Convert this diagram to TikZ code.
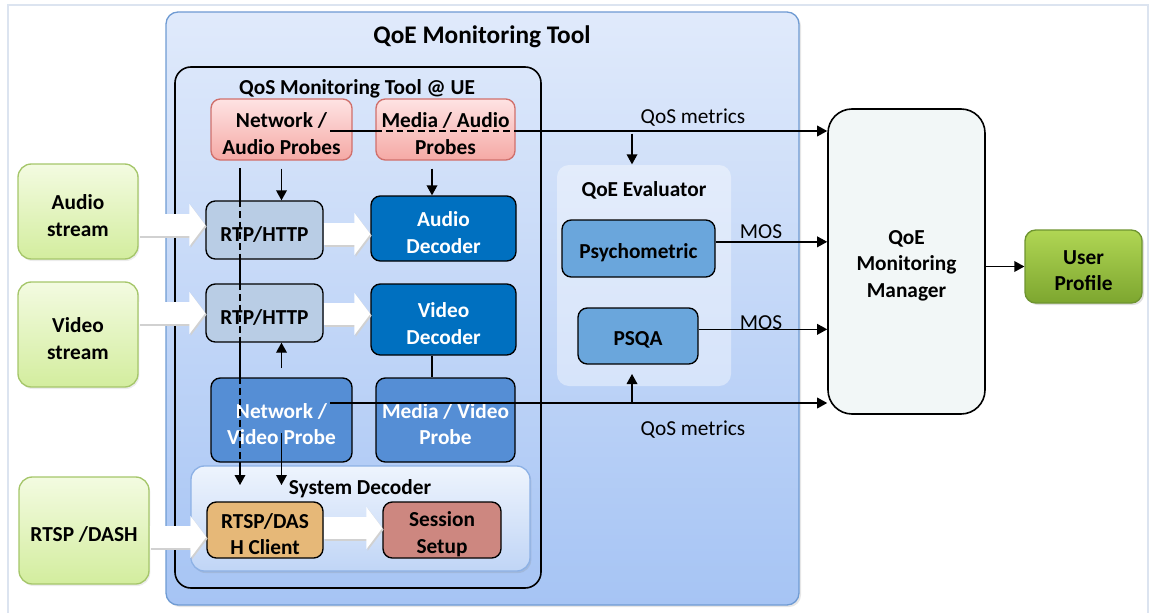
\documentclass[tikz,border=0pt]{standalone}
\usepackage{fontspec}
\setmainfont{Carlito}
\usetikzlibrary{positioning}
\usetikzlibrary{arrows.meta,shadows}
\definecolor{framegray}{HTML}{DCE4F0}
\definecolor{tooltop}{HTML}{E0EAFB}
\definecolor{toolbot}{HTML}{A6C4F4}
\definecolor{toolline}{HTML}{6F9BD3}
\definecolor{probetop}{HTML}{FEE3E3}
\definecolor{probebot}{HTML}{F5A9A5}
\definecolor{probeline}{HTML}{D0706C}
\definecolor{streamtop}{HTML}{F3FBE1}
\definecolor{streambot}{HTML}{D3ED9E}
\definecolor{streamline}{HTML}{A5C66A}
\definecolor{rtpfill}{HTML}{B9CDE5}
\definecolor{decfill}{HTML}{0070C0}
\definecolor{vprobefill}{HTML}{558ED5}
\definecolor{evalfill}{HTML}{6AA6DC}
\definecolor{clientfill}{HTML}{E6B878}
\definecolor{sessfill}{HTML}{CD8780}
\definecolor{sysdtop}{HTML}{EEF4FD}
\definecolor{sysdbot}{HTML}{C0D5F6}
\definecolor{sysdline}{HTML}{8DB1E5}
\definecolor{mgrfill}{HTML}{F2F7F7}
\definecolor{usertop}{HTML}{B0D654}
\definecolor{userbot}{HTML}{7DA62F}
\definecolor{userline}{HTML}{6E9430}
\newcommand\basefont{\fontsize{16}{20}\selectfont}
\newcommand\titlefont{\fontsize{19}{22}\selectfont\bfseries}
\pgfdeclarelayer{back}\pgfdeclarelayer{mid}
\pgfsetlayers{back,mid,main}
\tikzset{sz/.style 2 args={minimum width=#1*0.75pt,minimum height=#2*0.75pt},
    txt/.style={label={center:{#1}}},wtxt/.style={label={[white]center:{#1}}},
    every label/.style={align=center,inner sep=0pt,yshift=-3pt},
    bx/.style={inner sep=0pt,rounded corners=7pt,line width=1pt},
    toolbox/.style={bx,draw=toolline,top color=tooltop,bottom color=toolbot,
    rounded corners=9pt,drop shadow={opacity=0.2,shadow xshift=1.5pt,shadow yshift=-1.5pt}},
    uebox/.style={bx,draw=black,line width=1.2pt,rounded corners=12pt},
    sysdbox/.style={bx,draw=sysdline,top color=sysdtop,bottom color=sysdbot,
    rounded corners=10pt,drop shadow={opacity=0.2,shadow xshift=1pt,shadow yshift=-1.5pt}},
    qevbox/.style={bx,fill=white,fill opacity=0.4,rounded corners=9pt},
    streambox/.style={bx,draw=streamline,top color=streamtop,bottom color=streambot,
    rounded corners=10pt,drop shadow={opacity=0.15,shadow xshift=1pt,shadow yshift=-1.5pt}},
    probebox/.style={bx,draw=probeline,top color=probetop,bottom color=probebot},
    rtpbox/.style={bx,draw=black,fill=rtpfill},
    decbox/.style={bx,draw=black,fill=decfill},
    vprobebox/.style={bx,draw=black,fill=vprobefill},
    evalbox/.style={bx,draw=black,fill=evalfill},
    clientbox/.style={bx,draw=black,fill=clientfill},
    sessbox/.style={bx,draw=black,fill=sessfill},
    mgrbox/.style={bx,draw=black,fill=mgrfill,line width=1.2pt,rounded corners=18pt},
    userbox/.style={bx,draw=userline,top color=usertop,bottom color=userbot,rounded corners=8pt,
    drop shadow={opacity=0.25,shadow xshift=1.5pt,shadow yshift=-1.5pt}},
    blackarrow/.style={line width=1pt,-{Triangle[length=7.5pt,width=8pt]}},
    blackline/.style={line width=1pt},
    dashline/.style={line width=1pt,dash pattern=on 5pt off 3pt},
    fatarrow/.style={white,line width=16.5pt,-{Triangle[length=12pt,width=31pt]}},
    fatshadow/.style={fatarrow,black!18,transform canvas={xshift=1pt,yshift=-1.2pt}},
    lbl/.style={font=\basefont}}

\begin{document}
\begin{tikzpicture}[x=0.75pt,y=-0.75pt,font=\basefont\bfseries]
        \useasboundingbox (0,0) rectangle (1151,613);
        \draw[framegray,line width=1pt] (8,613) -- (8,5) -- (1148,5) -- (1148,613);
        \begin{pgfonlayer}{back}
        \node[toolbox,sz={633}{593}] (tool) at (482.5,308.5) {};
        \node[uebox,sz={366}{521}] (ue) at (358,327.5) {};
        \node[sysdbox,sz={339}{105}] (sysd) at (360.5,518.5) {};
        \node[qevbox,sz={174}{221}] (qev) at (644,275.5) {};
        \end{pgfonlayer}
        \node[font=\titlefont] (tooltitle) at (482,37) {QoE Monitoring Tool};
        \node (uetitle) at (357,89) {QoS Monitoring Tool @ UE};
        \node (sysdtitle) at (360,489) {System Decoder};
        \node (qevtitle) at (644,190) {QoE Evaluator};
        \node[streambox,sz={120}{95},txt={Audio\\stream}] (as) at (78,211.5) {};
        \node[streambox,sz={120}{105},txt={Video\\stream}] (vs) at (78,334.5) {};
        \node[streambox,sz={130}{107},txt={RTSP /DASH}] (rs) at (84,530.5) {};
        \node[probebox,sz={141}{61},txt={Network /\\Audio Probes}] (nap) at (281.5,129.5) {};
        \node[probebox,sz={139}{61},txt={Media / Audio\\Probes}] (mau) at (445.5,129.5) {};
        \node[rtpbox,sz={117}{58},txt={RTP/HTTP}] (rtpa) at (264.5,230) {};
        \node[decbox,sz={145}{65},wtxt={Audio\\Decoder}] (adec) at (443.5,228.5) {};
        \node[rtpbox,sz={117}{58},txt={RTP/HTTP}] (rtpv) at (264.5,313) {};
        \node[decbox,sz={145}{71},wtxt={Video\\Decoder}] (vdec) at (443.5,319.5) {};
        \node[vprobebox,sz={141}{84},wtxt={Network /\\Video Probe}] (nvp) at (281.5,420) {};
        \node[vprobebox,sz={139}{84},wtxt={Media / Video\\Probe}] (mvp) at (445.5,420) {};
        \node[clientbox,sz={116}{56},txt={RTSP/DAS\\H Client}] (client) at (265,530) {};
        \node[sessbox,sz={118}{56},txt={Session\\Setup}] (sess) at (442,530) {};
        \node[evalbox,sz={153}{57},txt={Psychometric}] (psy) at (638.5,248.5) {};
        \node[evalbox,sz={120}{56},txt={PSQA}] (psqa) at (638,336) {};
        \node[mgrbox,sz={157}{305},txt={QoE\\Monitoring\\Manager}] (qmm) at (906.5,261.5) {};
        \node[userbox,sz={117}{73},txt={User\\Profile}] (up) at (1083.5,266.5) {};
        \coordinate (qtop) at (330,131);\coordinate (qbot) at (330,403);
        \coordinate (qbr) at (632,131);\coordinate (qbr2) at (632,403);
        \coordinate (vtop) at (240,168);\coordinate (vbot) at (240,485);
        \node[lbl] (qm1) at (693,118) {QoS metrics};
        \node[lbl] (qm2) at (693,430) {QoS metrics};
        \node[lbl] (mos1) at (761,232) {MOS};
        \node[lbl] (mos2) at (761,323) {MOS};
        \begin{pgfonlayer}{mid}
        \draw[blackarrow](qtop)--(qtop-|qmm.west);
        \draw[blackarrow](vtop)--(vbot);
        \end{pgfonlayer}
        \draw[blackline](qtop)--(qtop-|nap.east);
        \draw[dashline](qtop-|mau.west)--(qtop-|mau.east);
        \draw[dashline](vtop|-rtpa.north)--(vtop|-rtpa.south);
        \draw[dashline](vtop|-rtpv.north)--(vtop|-rtpv.south);
        \draw[dashline](vtop|-nvp.north)--(vtop|-nvp.south);
        \draw[blackarrow](qbot)--(qbot-|qmm.west);
        \draw[blackarrow,shorten <=2pt](qbr)--(qbr|-qev.north);
        \draw[blackarrow,shorten >=7pt](qbr2)--(qbr2|-psqa.south);
        \draw[blackarrow,shorten <=6pt](nap.south)--(nap.south|-rtpa.north);
        \draw[blackarrow,shorten <=6pt](mau.south-|432,0)--(432,0|-adec.north);
        \draw[blackline](vdec.south-|432,0)--(432,0|-mvp.north);
        \draw[blackarrow,shorten <=7pt](nvp.north)--(nvp.north|-rtpv.south);
        \draw[blackarrow](nvp.south|-0,433)--(nvp.south|-vbot);
        \draw[blackarrow]([yshift=5pt]psy.east)--([yshift=5pt]psy.east-|qmm.west);
        \draw[blackarrow]([yshift=5pt]psqa.east)--([yshift=5pt]psqa.east-|qmm.west);
        \draw[blackarrow](qmm.east|-up.west)--(up.west);
        \draw[fatshadow](as.east|-0,225)--(rtpa.west|-0,225);
        \draw[fatarrow](as.east|-0,225)--(rtpa.west|-0,225);
        \draw[fatshadow](vs.east|-0,313)--(rtpv.west|-0,313);
        \draw[fatarrow](vs.east|-0,313)--(rtpv.west|-0,313);
        \draw[fatshadow](rs.east|-0,537)--(client.west|-0,537);
        \draw[fatarrow](rs.east|-0,537)--(client.west|-0,537);
        \draw[fatshadow](rtpa.east|-0,234)--(adec.west|-0,234);
        \draw[fatarrow](rtpa.east|-0,234)--(adec.west|-0,234);
        \draw[fatshadow](rtpv.east|-0,314)--(vdec.west|-0,314);
        \draw[fatarrow](rtpv.east|-0,314)--(vdec.west|-0,314);
        \draw[fatshadow](client.east|-0,528)--(sess.west|-0,528);
        \draw[fatarrow](client.east|-0,528)--(sess.west|-0,528);
    \end{tikzpicture}
\end{document}
